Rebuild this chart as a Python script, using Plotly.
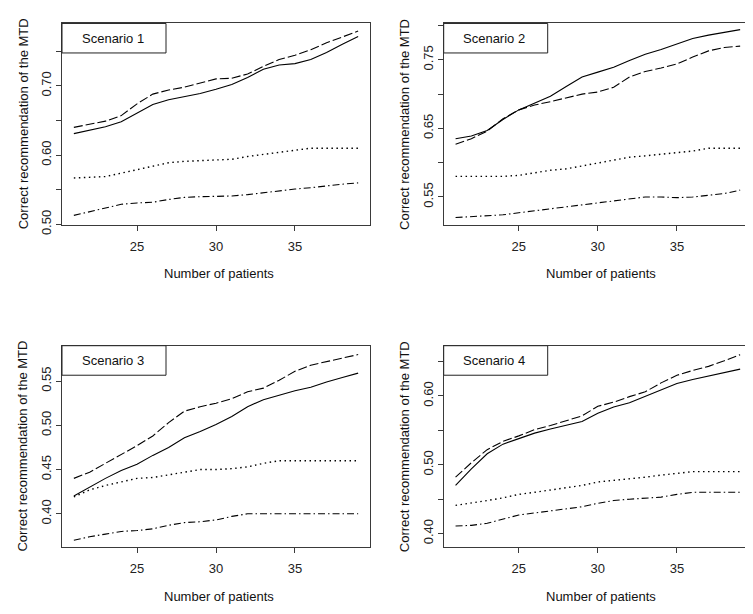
import plotly.graph_objects as go

# ---------------- data ----------------
patients = list(range(21, 40))

s1_solid = [0.631, 0.636, 0.641, 0.648, 0.660, 0.673, 0.680, 0.684, 0.689, 0.695, 0.702, 0.712, 0.724, 0.730, 0.732, 0.738, 0.748, 0.760, 0.771]
s1_dashed = [0.640, 0.644, 0.649, 0.657, 0.674, 0.688, 0.694, 0.698, 0.704, 0.710, 0.711, 0.717, 0.728, 0.738, 0.744, 0.752, 0.762, 0.770, 0.779]
s1_dotted = [0.567, 0.568, 0.569, 0.574, 0.579, 0.584, 0.589, 0.591, 0.592, 0.592, 0.594, 0.598, 0.601, 0.605, 0.608, 0.610, 0.610, 0.610, 0.610]
s1_dashdot = [0.513, 0.518, 0.523, 0.529, 0.531, 0.532, 0.536, 0.539, 0.540, 0.540, 0.541, 0.543, 0.546, 0.549, 0.551, 0.553, 0.556, 0.558, 0.560]

s2_solid = [0.635, 0.639, 0.647, 0.663, 0.677, 0.687, 0.697, 0.711, 0.725, 0.732, 0.739, 0.749, 0.758, 0.765, 0.773, 0.781, 0.786, 0.790, 0.794]
s2_dashed = [0.627, 0.635, 0.646, 0.664, 0.677, 0.684, 0.689, 0.695, 0.700, 0.703, 0.710, 0.725, 0.733, 0.738, 0.744, 0.754, 0.763, 0.768, 0.770]
s2_dotted = [0.580, 0.580, 0.580, 0.580, 0.5815, 0.585, 0.589, 0.591, 0.595, 0.600, 0.604, 0.608, 0.610, 0.612, 0.614, 0.617, 0.621, 0.621, 0.621]
s2_dashdot = [0.520, 0.521, 0.522, 0.524, 0.527, 0.530, 0.533, 0.535, 0.538, 0.541, 0.544, 0.548, 0.550, 0.550, 0.549, 0.550, 0.552, 0.555, 0.560]

s3_solid = [0.420, 0.430, 0.440, 0.449, 0.456, 0.466, 0.475, 0.486, 0.493, 0.501, 0.510, 0.521, 0.529, 0.534, 0.539, 0.543, 0.549, 0.554, 0.559]
s3_dashed = [0.440, 0.447, 0.457, 0.467, 0.477, 0.488, 0.503, 0.516, 0.521, 0.525, 0.530, 0.538, 0.542, 0.551, 0.561, 0.568, 0.572, 0.576, 0.580]
s3_dotted = [0.419, 0.427, 0.432, 0.436, 0.440, 0.441, 0.444, 0.447, 0.450, 0.450, 0.451, 0.453, 0.457, 0.460, 0.460, 0.460, 0.460, 0.460, 0.460]
s3_dashdot = [0.370, 0.374, 0.377, 0.380, 0.381, 0.383, 0.387, 0.390, 0.391, 0.393, 0.397, 0.400, 0.400, 0.400, 0.400, 0.400, 0.400, 0.400, 0.400]

s4_solid = [0.470, 0.494, 0.516, 0.530, 0.538, 0.546, 0.552, 0.557, 0.563, 0.575, 0.584, 0.590, 0.599, 0.608, 0.618, 0.624, 0.629, 0.633, 0.639]
s4_dashed = [0.482, 0.503, 0.522, 0.534, 0.542, 0.551, 0.557, 0.564, 0.571, 0.585, 0.591, 0.599, 0.606, 0.619, 0.630, 0.637, 0.643, 0.651, 0.660]
s4_dotted = [0.441, 0.444, 0.448, 0.452, 0.457, 0.460, 0.463, 0.466, 0.470, 0.475, 0.477, 0.480, 0.482, 0.485, 0.488, 0.490, 0.490, 0.490, 0.490]
s4_dashdot = [0.411, 0.412, 0.415, 0.421, 0.427, 0.430, 0.433, 0.437, 0.439, 0.444, 0.448, 0.450, 0.452, 0.453, 0.457, 0.460, 0.460, 0.460, 0.460]

scenario_titles = ["Scenario 1", "Scenario 2", "Scenario 3", "Scenario 4"]
x_tick_vals = [25, 30, 35]
y_tick_vals = [
    [0.50, 0.55, 0.60, 0.65, 0.70, 0.75],
    [0.55, 0.60, 0.65, 0.70, 0.75, 0.80],
    [0.40, 0.45, 0.50, 0.55],
    [0.40, 0.45, 0.50, 0.55, 0.60, 0.65],
]
y_tick_text = [
    ["0.50", "", "0.60", "", "0.70", ""],
    ["0.55", "", "0.65", "", "0.75", ""],
    ["0.40", "0.45", "0.50", "0.55"],
    ["0.40", "", "0.50", "", "0.60", ""],
]
x_title = "Number of patients"
y_title = "Correct recommendation of the MTD"

series = [
    [s1_solid, s1_dashed, s1_dotted, s1_dashdot],
    [s2_solid, s2_dashed, s2_dotted, s2_dashdot],
    [s3_solid, s3_dashed, s3_dotted, s3_dashdot],
    [s4_solid, s4_dashed, s4_dotted, s4_dashdot],
]

# ---------------- layout geometry (pixels) ----------------
W, H = 753, 614
panels_px = [  # left, right, top, bottom
    (54, 362, 15.7, 220.7),
    (435.7, 744, 15.7, 220.7),
    (54, 362, 343.3, 548.3),
    (435.7, 744, 343.3, 548.3),
]
y_ranges = [(0.499, 0.790), (0.509, 0.803), (0.362, 0.590), (0.380, 0.673)]
x_range = (20.25, 39.75)

styles = [
    dict(dash="solid", width=1.1),
    dict(dash="9px,3px", width=1.1),
    dict(dash="1.5px,3.5px", width=1.4),
    dict(dash="7px,3px,1.5px,3px", width=1.1),
]

FONT = "Liberation Sans, Arial, Helvetica, sans-serif"
FS = 13
AX_COL = "#3a3a3a"

def px_x(p):
    return p / W

def px_y(p):
    return 1 - p / H

fig = go.Figure()
shapes = []
annotations = []

for i in range(4):
    l, r, t, b = panels_px[i]
    xa = "xaxis" if i == 0 else f"xaxis{i+1}"
    ya = "yaxis" if i == 0 else f"yaxis{i+1}"
    xref = "x" if i == 0 else f"x{i+1}"
    yref = "y" if i == 0 else f"y{i+1}"
    for s, st in zip(series[i], styles):
        fig.add_trace(go.Scatter(
            x=patients, y=s, mode="lines",
            line=dict(color="black", width=st["width"], dash=st["dash"]),
            xaxis=xref, yaxis=yref, showlegend=False, hoverinfo="skip",
        ))
    fig.layout[xa] = dict(
        domain=[px_x(l), px_x(r)], range=list(x_range), anchor=yref,
        tickmode="array", tickvals=x_tick_vals,
        ticks="outside", ticklen=5, tickcolor=AX_COL, tickwidth=1,
        showline=True, linecolor=AX_COL, linewidth=1, mirror=True,
        showgrid=False, zeroline=False,
        tickfont=dict(family=FONT, size=FS, color="#222"),
        ticklabelstandoff=4,
    )
    fig.layout[ya] = dict(
        domain=[px_y(b), px_y(t)], range=list(y_ranges[i]), anchor=xref,
        tickmode="array", tickvals=y_tick_vals[i], ticktext=y_tick_text[i],
        tickangle=-90,
        ticks="outside", ticklen=5, tickcolor=AX_COL, tickwidth=1,
        showline=True, linecolor=AX_COL, linewidth=1, mirror=True,
        showgrid=False, zeroline=False,
        tickfont=dict(family=FONT, size=FS, color="#222"),
    )
    # scenario label box
    shapes.append(dict(
        type="rect", xref="paper", yref="paper",
        x0=px_x(l), x1=px_x(l + 104), y0=px_y(t + 30), y1=px_y(t),
        line=dict(color="#222", width=1), fillcolor="white", layer="above",
    ))
    annotations.append(dict(
        text=scenario_titles[i], xref="paper", yref="paper",
        x=px_x(l + 17.5), y=px_y(t + 15.5), xanchor="left", yanchor="middle",
        showarrow=False, font=dict(family=FONT, size=FS, color="#111"),
    ))
    # axis titles
    annotations.append(dict(
        text=x_title, xref="paper", yref="paper",
        x=px_x((l + r) / 2 + 3), y=px_y(b + 49.5), xanchor="center", yanchor="middle",
        showarrow=False, font=dict(family=FONT, size=FS, color="#111"),
    ))
    annotations.append(dict(
        text=y_title, xref="paper", yref="paper",
        x=px_x(l - 39), y=px_y((t + b) / 2), xanchor="center", yanchor="middle",
        textangle=-90, showarrow=False, font=dict(family=FONT, size=FS, color="#111"),
    ))

fig.update_layout(
    width=W, height=H, margin=dict(l=0, r=0, t=0, b=0),
    paper_bgcolor="white", plot_bgcolor="white",
    shapes=shapes, annotations=annotations, showlegend=False,
)

fig.write_html("out.html")
